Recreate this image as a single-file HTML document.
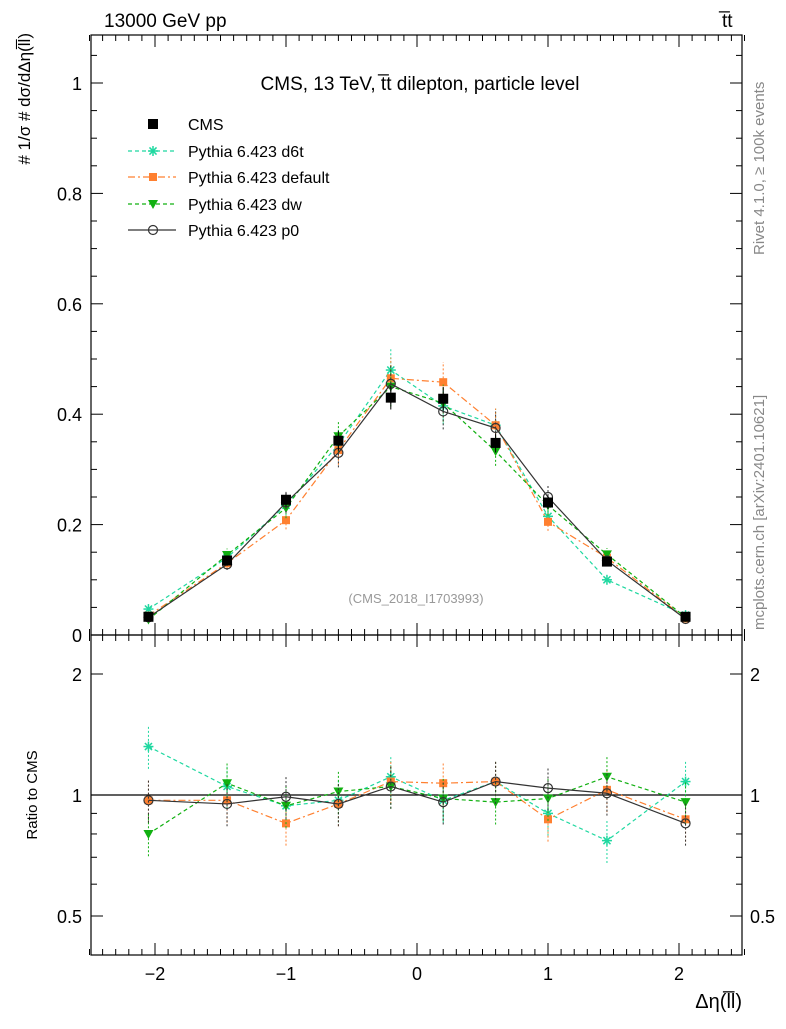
<!DOCTYPE html>
<html><head><meta charset="utf-8"><style>
body{margin:0;background:#fff;width:786px;height:1024px;overflow:hidden}
svg text{font-family:"Liberation Sans",sans-serif}
</style></head><body>
<svg id="c" width="786" height="1024" xmlns="http://www.w3.org/2000/svg"></svg>
<script>
const xCenters=[-2.05,-1.45,-1.0,-0.6,-0.2,0.2,0.6,1.0,1.45,2.05];
const cmsVals=[0.033,0.135,0.245,0.352,0.43,0.428,0.348,0.24,0.133,0.033];
const d6tVals=[0.047,0.14,0.235,0.345,0.48,0.415,0.38,0.215,0.10,0.036];
const defVals=[0.035,0.13,0.208,0.335,0.465,0.458,0.38,0.205,0.14,0.03];
const dwVals=[0.028,0.145,0.23,0.36,0.45,0.42,0.333,0.235,0.146,0.032];
const p0Vals=[0.032,0.128,0.24,0.33,0.455,0.405,0.375,0.25,0.135,0.029];
const d6tRatio=[1.32,1.05,0.94,0.97,1.11,0.97,1.08,0.9,0.77,1.08];
const defRatio=[0.97,0.97,0.85,0.95,1.08,1.07,1.08,0.87,1.03,0.87];
const dwRatio=[0.80,1.07,0.94,1.02,1.05,0.98,0.96,0.98,1.11,0.96];
const p0Ratio=[0.97,0.95,0.99,0.95,1.05,0.96,1.08,1.04,1.01,0.85];
const xTicks=[-2,-1,0,1,2];
const yTicks=[0,0.2,0.4,0.6,0.8,1];
const rTicks=[0.5,1,2];

const svg=document.getElementById('c');
const NS='http://www.w3.org/2000/svg';
function el(t,a,p){const e=document.createElementNS(NS,t);for(const k in a)e.setAttribute(k,a[k]);(p||svg).appendChild(e);return e;}
const L=91,R=742,T=35,M=635,B=955;
const X=v=>417+v*131;
const Y=v=>635-v*552;
const YR=v=>795-Math.log2(v)*121;

let f=el('rect',{x:L,y:T,width:R-L,height:M-T,fill:'none',stroke:'#000','stroke-width':1.2});

f=el('rect',{x:L,y:M,width:R-L,height:B-M,fill:'none',stroke:'#000','stroke-width':1.2});


for(let v=-2.5;v<=2.5001;v+=0.1){const x=X(v);const major=Math.abs(v-Math.round(v))<1e-6;const len=major?12:6;
 for(const [a,b] of [[T,1],[M,-1],[M,1],[B,-1]]) el('line',{x1:x,x2:x,y1:a,y2:a+b*len,stroke:'#000'});}
xTicks.forEach(v=>{const t=el('text',{x:X(v),y:980,'text-anchor':'middle','font-size':18});t.textContent=v<0?'\u2212'+(-v):v;
 });
for(let v=0;v<=1.08;v+=0.05){const y=Y(v);const maj=Math.abs(v*5-Math.round(v*5))<1e-6;const len=maj?12:6;
 el('line',{x1:L,x2:L+len,y1:y,y2:y,stroke:'#000'});el('line',{x1:R,x2:R-len,y1:y,y2:y,stroke:'#000'});}
yTicks.forEach(v=>{const t=el('text',{x:82,y:Y(v)+7,'text-anchor':'end','font-size':18});t.textContent=v;
 });
[0.5,0.6,0.7,0.8,0.9,1,2].forEach(v=>{const y=YR(v);const maj=rTicks.includes(v);const len=maj?12:6;
 el('line',{x1:L,x2:L+len,y1:y,y2:y,stroke:'#000'});el('line',{x1:R,x2:R-len,y1:y,y2:y,stroke:'#000'});});
rTicks.forEach(v=>{for(const [x,a] of [[82,'end'],[750,'start']]){const t=el('text',{x:x,y:YR(v)+7,'text-anchor':a,'font-size':18});t.textContent=v;
 }});
el('line',{x1:L,x2:R,y1:YR(1),y2:YR(1),stroke:'#000','stroke-width':1.2});

function marker(type,x,y,col,g){
 if(type==='sq')el('rect',{x:x-5,y:y-5,width:10,height:10,fill:col},g);
 else if(type==='sqs')el('rect',{x:x-4,y:y-4,width:8,height:8,fill:col},g);
 else if(type==='tri')el('path',{d:`M${x-5},${y-4}L${x+5},${y-4}L${x},${y+5}Z`,fill:col},g);
 else if(type==='circ')el('circle',{cx:x,cy:y,r:4.5,fill:'none',stroke:col,'stroke-width':1.2},g);
 else if(type==='star'){for(let a=0;a<4;a++){const an=a*Math.PI/4;el('line',{x1:x-5*Math.cos(an),y1:y-5*Math.sin(an),x2:x+5*Math.cos(an),y2:y+5*Math.sin(an),stroke:col,'stroke-width':1.5},g);}}
}
const series=[
 {name:'d6t',vals:d6tVals,ratio:d6tRatio,col:'#1fd8a0',dash:'4,3',m:'star',w:1.2},
 {name:'default',vals:defVals,ratio:defRatio,col:'#ff8030',dash:'7,3,2,3',m:'sqs',w:1.2},
 {name:'dw',vals:dwVals,ratio:dwRatio,col:'#11b011',dash:'4,3',m:'tri',w:1.2},
 {name:'p0',vals:p0Vals,ratio:p0Ratio,col:'#333',dash:'',m:'circ',w:1.2}];
series.forEach(s=>{
 const g=el('g',{});
 el('polyline',{points:xCenters.map((x,i)=>X(x)+','+Y(s.vals[i])).join(' '),fill:'none',stroke:s.col,'stroke-width':s.w,'stroke-dasharray':s.dash},g);
 el('polyline',{points:xCenters.map((x,i)=>X(x)+','+YR(s.ratio[i])).join(' '),fill:'none',stroke:s.col,'stroke-width':s.w,'stroke-dasharray':s.dash},g);
 xCenters.forEach((x,i)=>{const v=s.vals[i],e=v*0.08;
  el('line',{x1:X(x),x2:X(x),y1:Y(v-e),y2:Y(v+e),stroke:s.col,'stroke-dasharray':'2,2'},g);
  const r=s.ratio[i],re=0.12;
  el('line',{x1:X(x),x2:X(x),y1:YR(r*(1-re)),y2:YR(r*(1+re)),stroke:s.col,'stroke-dasharray':'2,2'},g);
  marker(s.m,X(x),Y(v),s.col,g);marker(s.m,X(x),YR(r),s.col,g);});
});
const gc=el('g',{});
xCenters.forEach((x,i)=>{const v=cmsVals[i];el('line',{x1:X(x),x2:X(x),y1:Y(v*0.95),y2:Y(v*1.05),stroke:'#000'},gc);marker('sq',X(x),Y(v),'#000',gc);});

const lg=el('g',{});
const ly=[124,151,177,204,230];
marker('sq',153,ly[0],'#000',lg);
series.forEach((s,i)=>{const y=ly[i+1];el('line',{x1:128,x2:176,y1:y,y2:y,stroke:s.col,'stroke-dasharray':s.dash,'stroke-width':1.2},lg);marker(s.m,153,y,s.col,lg);});
['CMS','Pythia 6.423 d6t','Pythia 6.423 default','Pythia 6.423 dw','Pythia 6.423 p0'].forEach((t,i)=>{const e=el('text',{x:188,y:ly[i]+6,'font-size':16},lg);e.textContent=t;});

function txt(s,a,name){const t=el('text',a);t.textContent=s;return t;}
txt('13000 GeV pp',{x:104,y:27,'font-size':19},'energy-label');
txt('t\u0305t',{x:722,y:27,'font-size':19},'process-label');
txt('CMS, 13 TeV, t\u0305t dilepton, particle level',{x:420,y:90,'font-size':19,'text-anchor':'middle'},'plot-title');
txt('(CMS_2018_I1703993)',{x:416,y:603,'font-size':13,fill:'#999','text-anchor':'middle'},'analysis-id');
txt('Rivet 4.1.0, \u2265 100k events',{x:0,y:0,'font-size':15,fill:'#888',transform:'translate(764,255) rotate(-90)'},'rivet-label');
txt('mcplots.cern.ch [arXiv:2401.10621]',{x:0,y:0,'font-size':15,fill:'#888',transform:'translate(764,630) rotate(-90)'},'mcplots-label');
txt('Ratio to CMS',{x:0,y:0,'font-size':15,'text-anchor':'middle',transform:'translate(37,795) rotate(-90)'},'ratio-y-title');
txt('\u0394\u03b7(l\u0305l)',{x:742,y:1008,'font-size':20,'text-anchor':'end'},'x-axis-title');
txt('# 1/σ # dσ/dΔη(l\u0305l)',{x:0,y:0,'font-size':17,'text-anchor':'end',transform:'translate(30,33) rotate(-90)'},'y-axis-title');
</script>
</body></html>
